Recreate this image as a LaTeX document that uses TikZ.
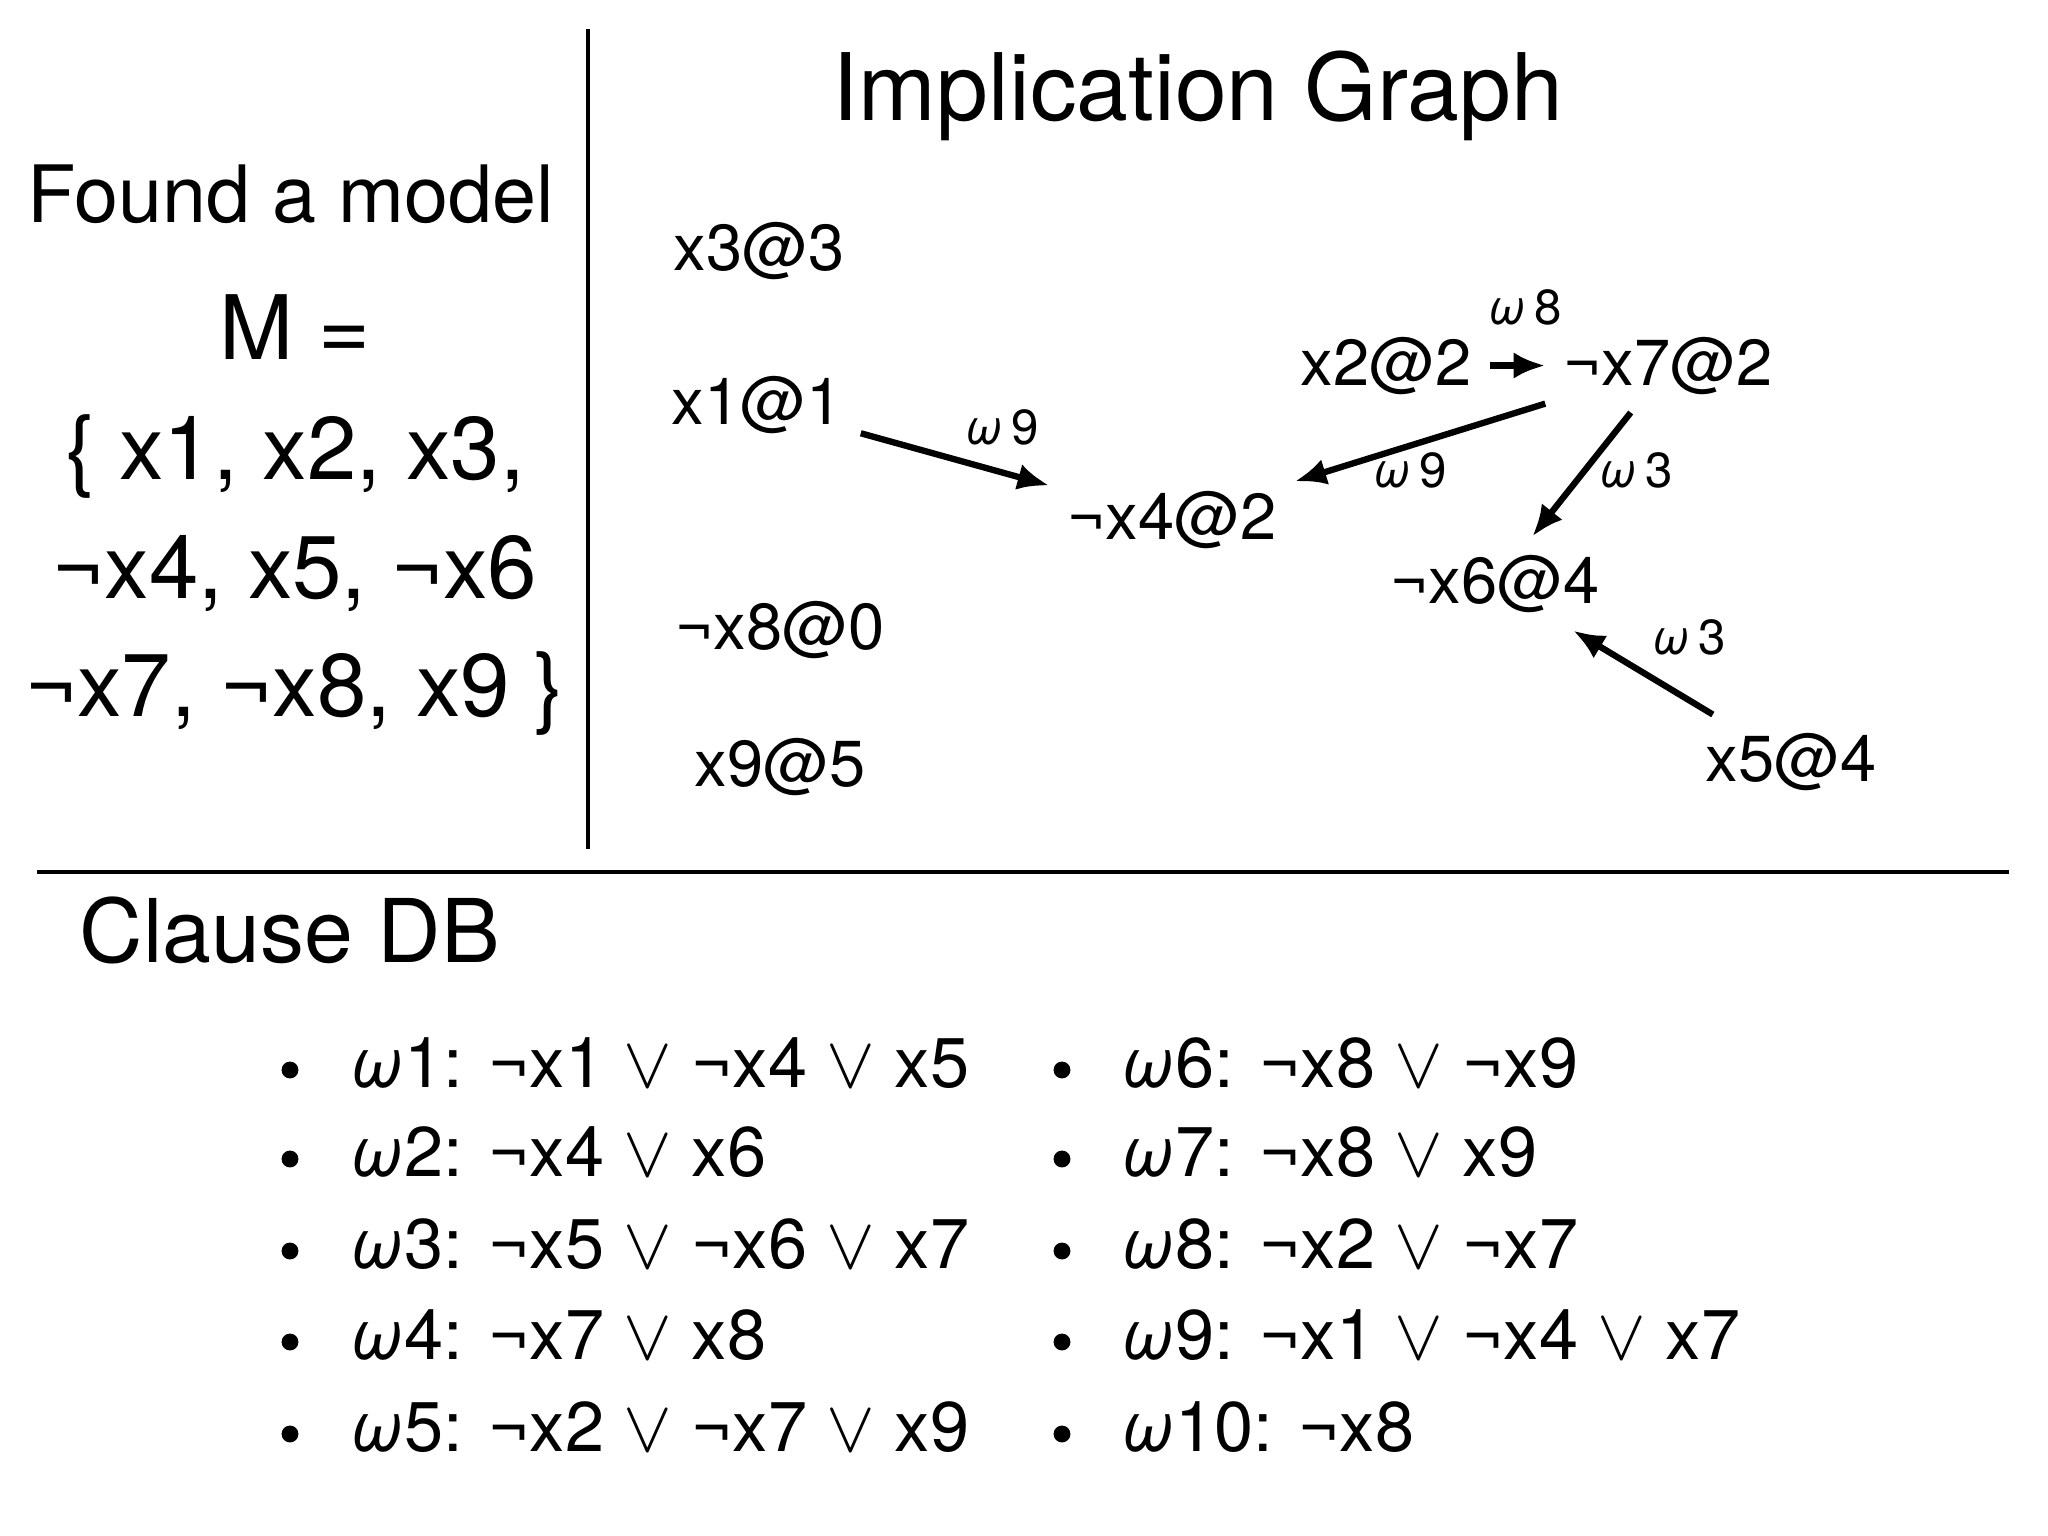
\documentclass[tikz,border=0pt]{standalone}
\usepackage{fontspec}
\setmainfont{TeX Gyre Heros}
\usetikzlibrary{arrows.meta}

\tikzset{
  lit/.style={anchor=base, inner sep=5pt, font=\fontsize{18.5}{22}\selectfont},
  mline/.style={anchor=base, inner sep=0pt, font=\fontsize{25.3}{30}\selectfont},
  wlab/.style={inner sep=1pt, font=\fontsize{14}{17}\selectfont},
  imp/.style={line width=1.8pt, -{Latex[length=9pt,width=7.5pt]}},
  clause/.style={anchor=base west, inner sep=0pt, font=\fontsize{20}{24}\selectfont},
  bul/.style={circle, fill=black, inner sep=0pt, minimum size=4.8pt}
}
\newcommand{\om}{\textit{ω}}

\begin{document}
\begin{tikzpicture}[x=0.01cm, y=-0.01cm]
  \useasboundingbox (0,0) rectangle (2048,1536);
  % Frame lines
  \draw[line width=1.1pt] (588,29) -- (588,849);
  \draw[line width=1.1pt] (37,872) -- (2009,872);
  % Model
  \node[anchor=base, inner sep=0pt, font=\fontsize{22.5}{27}\selectfont] (found) at (291,222) {Found a model};
  \node[mline] (m1) at (295,359) {M =};
  \node[mline] (m2) at (295,479) {\{ x1, x2, x3,};
  \node[mline] (m3) at (295,598) {¬x4, x5, ¬x6};
  \node[mline] (m4) at (295,716) {¬x7, ¬x8, x9 \}};
  % Implication graph
  \node[anchor=base, inner sep=0pt, font=\fontsize{26.5}{32}\selectfont] (title) at (1198,120) {Implication Graph};
  \node[lit] (x3)  at (759,270)  {x3@3};
  \node[lit] (x1)  at (757,424)  {x1@1};
  \node[lit] (nx8) at (780,649)  {¬x8@0};
  \node[lit] (x9)  at (780,786)  {x9@5};
  \node[lit] (nx4) at (1172,539) {¬x4@2};
  \node[lit] (x2)  at (1386,385) {x2@2};
  \node[lit] (nx7) at (1668,385) {¬x7@2};
  \node[lit] (nx6) at (1495,603) {¬x6@4};
  \node[lit] (x5)  at (1791,781) {x5@4};
  % Implications
  \draw[imp] (x1)  -- (nx4);
  \draw[imp] (nx7) -- (nx4);
  \draw[imp] (x2)  -- (nx7);
  \draw[imp] (nx7) -- (nx6);
  \draw[imp] (x5)  -- (nx6);
  \node[wlab] (w9a) at (1002,427) {\om\,9};
  \node[wlab] (w9b) at (1410,470) {\om\,9};
  \node[wlab] (w8)  at (1525,307) {\om\,8};
  \node[wlab] (w3a) at (1636,470) {\om\,3};
  \node[wlab] (w3b) at (1689,637) {\om\,3};
  % Clause DB
  \node[anchor=base, inner sep=0pt, font=\fontsize{25}{30}\selectfont] (db) at (290,962) {Clause DB};
  \node[bul] (b1) at (290,1070) {};
  \node[bul] (b2) at (290,1159) {};
  \node[bul] (b3) at (290,1251) {};
  \node[bul] (b4) at (290,1342) {};
  \node[bul] (b5) at (290,1434) {};
  \node[clause] (c1) at (350,1087) {\om1: ¬x1 $\vee$ ¬x4 $\vee$ x5};
  \node[clause] (c2) at (350,1176) {\om2: ¬x4 $\vee$ x6};
  \node[clause] (c3) at (350,1268) {\om3: ¬x5 $\vee$ ¬x6 $\vee$ x7};
  \node[clause] (c4) at (350,1359) {\om4: ¬x7 $\vee$ x8};
  \node[clause] (c5) at (350,1451) {\om5: ¬x2 $\vee$ ¬x7 $\vee$ x9};
  \node[bul] (b6)  at (1062,1070) {};
  \node[bul] (b7)  at (1062,1159) {};
  \node[bul] (b8)  at (1062,1251) {};
  \node[bul] (b9)  at (1062,1342) {};
  \node[bul] (b10) at (1062,1434) {};
  \node[clause] (c6)  at (1121,1087) {\om6: ¬x8 $\vee$ ¬x9};
  \node[clause] (c7)  at (1121,1176) {\om7: ¬x8 $\vee$ x9};
  \node[clause] (c8)  at (1121,1268) {\om8: ¬x2 $\vee$ ¬x7};
  \node[clause] (c9)  at (1121,1359) {\om9: ¬x1 $\vee$ ¬x4 $\vee$ x7};
  \node[clause] (c10) at (1121,1451) {\om10: ¬x8};
\end{tikzpicture}
\end{document}
